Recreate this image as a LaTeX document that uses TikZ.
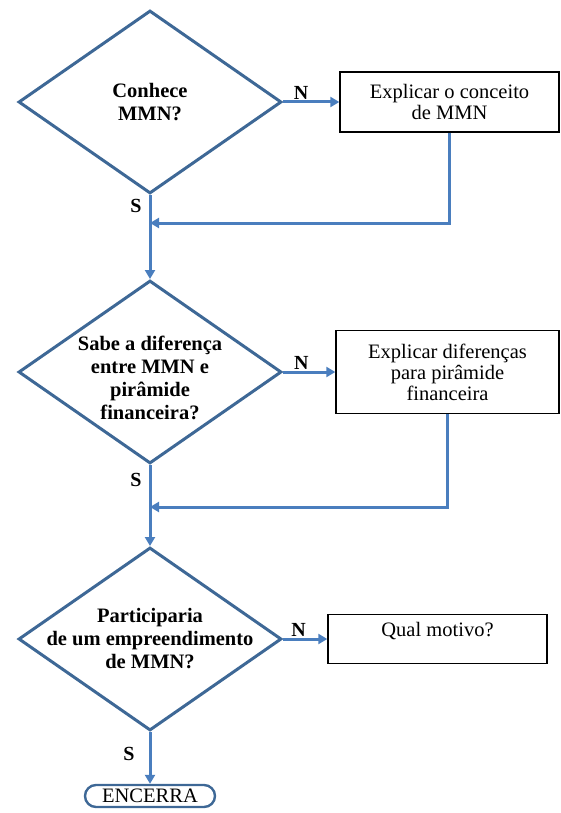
\documentclass[tikz,border=0pt]{standalone}
\usepackage{fontspec}
\setmainfont{Liberation Serif}
\usetikzlibrary{arrows.meta,shapes,positioning,calc}
\definecolor{flowblue}{RGB}{74,126,190}
\definecolor{edgeblue}{RGB}{62,104,150}

\begin{document}
\begin{tikzpicture}[x=1pt, y=-1pt,
    decision/.style={diamond, draw=edgeblue, line width=3pt, minimum width=263pt, minimum height=183pt, inner sep=0pt},
    question/.style={align=center, inner sep=0pt, font=\fontsize{20.5}{23}\selectfont\bfseries},
    action/.style={rectangle, draw=black, line width=1.4pt, inner sep=0pt, align=center, font=\fontsize{20.5}{21}\selectfont},
    terminal/.style={rounded rectangle, draw=edgeblue, line width=2.4pt, minimum width=130pt, minimum height=22pt, inner sep=0pt, font=\fontsize{20.5}{21}\selectfont},
    flow/.style={draw=flowblue, line width=3pt, -{Triangle[length=9pt,width=10pt]}},
    answer/.style={font=\fontsize{20}{21}\selectfont\bfseries, inner sep=1pt}]
    \useasboundingbox (0,0) rectangle (560,813);

    % Question 1
    \node[decision, label={[question]center:{Conhece\\MMN?}}] (d1) at (150, 102) {};
    \node[action, minimum width=219pt, minimum height=60pt] (b1) at (449.5, 102) {Explicar o conceito\\de MMN};
    \coordinate (j1) at (150, 223);

    % Question 2
    \node[decision, label={[question, yshift=-6pt]center:{Sabe a diferença\\entre MMN e\\pirâmide\\financeira?}}] (d2) at (150, 372) {};
    \node[action, minimum width=223pt, minimum height=83pt] (b2) at (447.5, 372) {Explicar diferenças\\para pirâmide\\financeira};
    \coordinate (j2) at (150, 507);

    % Question 3
    \node[decision, label={[question]center:{Participaria\\de um empreendimento\\de MMN?}}] (d3) at (150, 639) {};
    \node[action, minimum width=219pt, minimum height=49pt, text depth=19pt] (b3) at (437.5, 639) {Qual motivo?};

    % End
    \node[terminal] (end) at (150, 796) {ENCERRA};

    \draw[flow] (d1.east) -- node[answer, above, pos=0.32] {N} (b1.west);
    \draw[flow] (b1.south) |- (j1);
    \draw[flow] (d1.south) -- node[answer, left=6pt, pos=0.13] {S} (d2.north);

    \draw[flow] (d2.east) -- node[answer, above, pos=0.35] {N} (b2.west);
    \draw[flow] (b2.south) |- (j2);
    \draw[flow] (d2.south) -- node[answer, left=6pt, pos=0.18] {S} (d3.north);

    \draw[flow] (d3.east) -- node[answer, above, pos=0.35] {N} (b3.west);
    \draw[flow] (d3.south) -- node[answer, left=13pt, pos=0.42] {S} (end.north);
\end{tikzpicture}
\end{document}
